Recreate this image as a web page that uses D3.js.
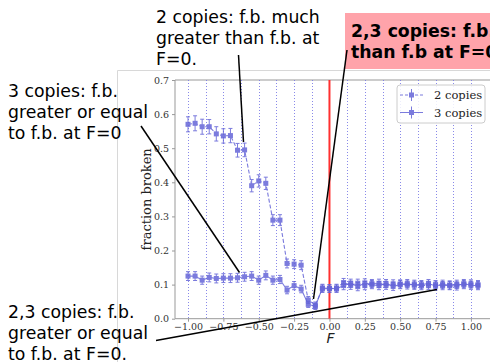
<!DOCTYPE html>
<html>
<head>
<meta charset="utf-8">
<script src="https://cdn.jsdelivr.net/npm/d3@7"></script>
<style>
  body { margin: 0; background: #fff; }
  svg { display: block; }
</style>
</head>
<body>
<div class="graph"><svg></svg></div>
<script>
// F values, step 0.05 from -1.00 to 1.05
const fValues = d3.range(42).map(i => Math.round((-1 + i * 0.05) * 100) / 100)

const twoCopies = [
  0.570, 0.573, 0.563, 0.563, 0.542, 0.536, 0.537, 0.494, 0.495, 0.390,
  0.404, 0.397, 0.289, 0.289, 0.162, 0.160, 0.157, 0.055, 0.040, 0.088,
  0.088, 0.090, 0.106, 0.098, 0.104, 0.097, 0.103, 0.104, 0.098, 0.102,
  0.102, 0.099, 0.101, 0.097, 0.098, 0.100, 0.097, 0.099, 0.101, 0.100,
  0.102, 0.100
]
const twoCopiesErr = [
  0.022, 0.022, 0.022, 0.021, 0.021, 0.021, 0.021, 0.020, 0.020, 0.018,
  0.018, 0.018, 0.016, 0.016, 0.013, 0.013, 0.013, 0.010, 0.009, 0.011,
  0.011, 0.011, 0.012, 0.012, 0.012, 0.012, 0.012, 0.012, 0.012, 0.012,
  0.012, 0.012, 0.012, 0.012, 0.012, 0.012, 0.012, 0.012, 0.012, 0.012,
  0.012, 0.012
]
const threeCopies = [
  0.125, 0.125, 0.113, 0.121, 0.118, 0.119, 0.119, 0.120, 0.123, 0.125,
  0.113, 0.127, 0.113, 0.115, 0.084, 0.097, 0.087, 0.042, 0.036, 0.090,
  0.089, 0.088, 0.097, 0.104, 0.094, 0.105, 0.100, 0.097, 0.103, 0.095,
  0.100, 0.103, 0.098, 0.100, 0.103, 0.096, 0.101, 0.097, 0.096, 0.103,
  0.098, 0.097
]
const threeCopiesErr = [
  0.013, 0.013, 0.012, 0.013, 0.013, 0.013, 0.013, 0.013, 0.013, 0.013,
  0.012, 0.013, 0.012, 0.012, 0.011, 0.012, 0.011, 0.009, 0.009, 0.011,
  0.011, 0.011, 0.012, 0.012, 0.012, 0.012, 0.012, 0.012, 0.012, 0.012,
  0.012, 0.012, 0.012, 0.012, 0.012, 0.012, 0.012, 0.012, 0.012, 0.012,
  0.012, 0.012
]

const xTicks = [-1, -0.75, -0.5, -0.25, 0, 0.25, 0.5, 0.75, 1]
const yTicks = [0, 0.1, 0.2, 0.3, 0.4, 0.5, 0.6, 0.7]
const gridValues = d3.range(17).map(i => -1 + i * 0.125)
const legendLabels = ['2 copies', '3 copies']

const notes = [
  { lines: ['2 copies: f.b. much', 'greater than f.b. at', 'F=0.'], x: 156, y: 23, from: [238.5, 55], to: [243.5, 142] },
  { lines: ['3 copies: f.b.', 'greater or equal', 'to f.b. at F=0'], x: 8, y: 96.5, from: [141, 126], to: [239.5, 272.5] },
  { lines: ['2,3 copies: f.b.', 'greater or equal', 'to f.b. at F=0.'], x: 8, y: 318, from: [156, 340.5], to: [437, 289.5] }
]
const boxNote = { lines: ['2,3 copies: f.b. less', 'than f.b at F=0.'], x: 351, y: 36.5, from: [347, 50], to: [313.5, 299] }

const width = 490
const height = 362
const color = '#6464d8'

const svg = d3.select('.graph').select('svg')
  .attr('width', width)
  .attr('height', height)

const x = d3.scaleLinear().domain([-1.092, 1.142]).range([175, 491])
const y = d3.scaleLinear().domain([0, 0.7]).range([318.7, 80])

/**
 * Draws the light frame of the pasted figure and the axes spines.
 */
function drawFrame () {
  svg.append('path')
    .attr('d', `M117.5,${height}V70.5H${width}`)
    .attr('fill', 'none')
    .attr('stroke', '#d8d8d8')

  svg.append('path')
    .attr('d', `M${x.range()[1]},${y(0.7)}H${x.range()[0]}V${y(0)}H${x.range()[1]}`)
    .attr('fill', 'none')
    .attr('stroke', '#999')
}

/**
 * Draws the dotted vertical grid and the red line at F=0.
 */
function drawGrid () {
  svg.append('g')
    .selectAll('line')
    .data(gridValues)
    .join('line')
    .attr('x1', d => Math.round(x(d)) + 0.5)
    .attr('x2', d => Math.round(x(d)) + 0.5)
    .attr('y1', y(0.7))
    .attr('y2', y(0))
    .attr('stroke', '#7c7ce6')
    .attr('stroke-width', 0.9)
    .attr('stroke-dasharray', '1,2')

  svg.append('line')
    .attr('x1', x(0))
    .attr('x2', x(0))
    .attr('y1', y(0.7))
    .attr('y2', y(0))
    .attr('stroke', '#ff3030')
    .attr('stroke-width', 2)
}

/**
 * Draws the tick marks and labels of both axes.
 */
function drawAxes () {
  const xAxis = svg.append('g')
    .attr('transform', `translate(0,${y(0)})`)
    .call(d3.axisBottom(x).tickValues(xTicks).tickFormat(d3.format('.2f')).tickSize(3).tickPadding(2))
  const yAxis = svg.append('g')
    .attr('transform', `translate(${x.range()[0]},0)`)
    .call(d3.axisLeft(y).tickValues(yTicks).tickFormat(d3.format('.1f')).tickSize(3).tickPadding(3))

  for (const axis of [xAxis, yAxis]) {
    axis.select('.domain').remove()
    axis.selectAll('.tick line').attr('stroke', '#999')
    axis.selectAll('.tick text')
      .attr('fill', '#333')
      .attr('font-family', 'DejaVu Serif')
      .attr('font-size', 9.5)
  }

  svg.append('text')
    .text('fraction broken')
    .attr('transform', `translate(151,${(y(0) + y(0.7)) / 2}) rotate(-90)`)
    .attr('text-anchor', 'middle')
    .attr('font-family', 'DejaVu Serif')
    .attr('font-size', 13)
    .attr('fill', '#222')

  svg.append('text')
    .text('F')
    .attr('x', x(0) + 1)
    .attr('y', 343)
    .attr('text-anchor', 'middle')
    .attr('font-family', 'DejaVu Sans')
    .attr('font-style', 'italic')
    .attr('font-size', 14)
    .attr('fill', '#222')
}

/**
 * Draws one series with its line, error bars and square markers.
 *
 * @param {number[]} values The fraction broken values
 * @param {number[]} errors The error bar half lengths
 * @param {string} dash The dash pattern of the line
 */
function drawSeries (values, errors, dash) {
  const points = fValues.map((f, i) => ({ f, v: values[i], e: errors[i] }))
  const g = svg.append('g').attr('opacity', 0.85)

  g.append('path')
    .datum(points)
    .attr('d', d3.line().x(d => x(d.f)).y(d => y(d.v)))
    .attr('fill', 'none')
    .attr('stroke', color)
    .attr('stroke-width', 1.1)
    .attr('stroke-dasharray', dash)

  const bars = g.selectAll('.bar')
    .data(points)
    .join('g')
    .attr('class', 'bar')
    .attr('stroke', color)
    .attr('stroke-width', 1)
  bars.append('line')
    .attr('x1', d => x(d.f)).attr('x2', d => x(d.f))
    .attr('y1', d => y(d.v - d.e)).attr('y2', d => y(d.v + d.e))
  bars.append('line')
    .attr('x1', d => x(d.f) - 2).attr('x2', d => x(d.f) + 2)
    .attr('y1', d => y(d.v + d.e)).attr('y2', d => y(d.v + d.e))
  bars.append('line')
    .attr('x1', d => x(d.f) - 2).attr('x2', d => x(d.f) + 2)
    .attr('y1', d => y(d.v - d.e)).attr('y2', d => y(d.v - d.e))

  g.selectAll('rect')
    .data(points)
    .join('rect')
    .attr('x', d => x(d.f) - 2.5)
    .attr('y', d => y(d.v) - 2.5)
    .attr('width', 5)
    .attr('height', 5)
    .attr('fill', color)
}

/**
 * Draws the legend box in the upper right corner.
 */
function drawLegend () {
  const g = svg.append('g').attr('transform', 'translate(397,85)')
  g.append('rect')
    .attr('width', 88)
    .attr('height', 38)
    .attr('rx', 3)
    .attr('fill', '#fff')
    .attr('fill-opacity', 0.85)
    .attr('stroke', '#ccc')

  legendLabels.forEach((label, i) => {
    const row = g.append('g')
      .attr('transform', `translate(0,${10 + i * 17.5})`)
      .attr('stroke', color)
      .attr('opacity', 0.85)
    row.append('line').attr('x1', 3).attr('x2', 26)
      .attr('stroke-dasharray', i === 0 ? '3,2' : null)
    row.append('line').attr('x1', 14.5).attr('x2', 14.5).attr('y1', -6).attr('y2', 6)
    row.append('rect').attr('x', 12).attr('y', -2.5).attr('width', 5).attr('height', 5)
      .attr('fill', color).attr('stroke', 'none')

    g.append('text')
      .text(label)
      .attr('x', 37)
      .attr('y', 14 + i * 17.5)
      .attr('font-family', 'DejaVu Serif')
      .attr('font-size', 11.5)
      .attr('fill', '#222')
  })
}

/**
 * Writes a multi line annotation with its pointer line.
 *
 * @param {object} note The annotation description
 * @param {string} weight The font weight
 */
function drawNote (note, weight) {
  svg.append('line')
    .attr('x1', note.from[0]).attr('y1', note.from[1])
    .attr('x2', note.to[0]).attr('y2', note.to[1])
    .attr('stroke', '#000')
    .attr('stroke-width', 1.5)

  svg.append('text')
    .attr('font-family', 'DejaVu Sans')
    .attr('font-size', 17.3)
    .attr('font-weight', weight)
    .attr('fill', '#000')
    .selectAll('tspan')
    .data(note.lines)
    .join('tspan')
    .attr('x', note.x)
    .attr('y', (d, i) => note.y + i * 21)
    .text(d => d)
}

drawFrame()
drawGrid()
drawAxes()
drawSeries(twoCopies, twoCopiesErr, '4,2')
drawSeries(threeCopies, threeCopiesErr, null)
drawLegend()

svg.append('rect')
  .attr('x', 345)
  .attr('y', 13)
  .attr('width', 150)
  .attr('height', 56)
  .attr('fill', '#ffa3aa')
drawNote(boxNote, 'bold')
notes.forEach(note => drawNote(note, 'normal'))
</script>
</body>
</html>
